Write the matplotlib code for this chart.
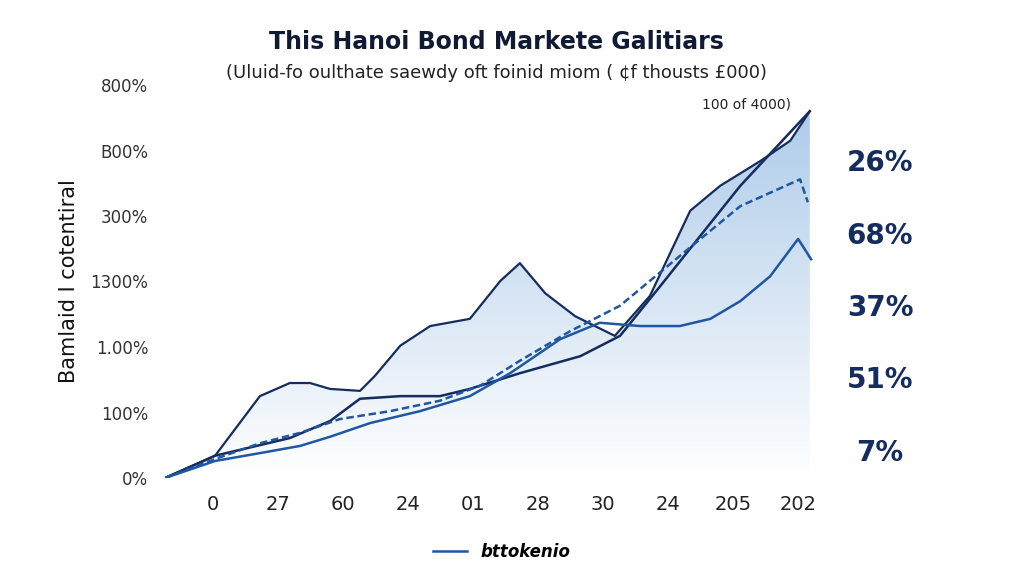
import numpy as np
import matplotlib.pyplot as plt
from matplotlib.colors import LinearSegmentedColormap
from matplotlib.patches import Polygon

title = "This Hanoi Bond Markete Galitiars"
subtitle = "(Uluid-fo oulthate saewdy oft foinid miom ( \u00a2f thousts \u00a3000)"
ylabel = "Bamlaid I cotentiral"
xtick_labels = ["0", "27", "60", "24", "01", "28", "30", "24", "205", "202"]
ytick_labels = ["0%", "100%", "1.00%", "1300%", "300%", "B00%", "800%"]
right_labels = ["26%", "68%", "37%", "51%", "7%"]
legend_label = "bttokenio"

x_area = [-0.74, 0.03, 0.72, 1.18, 1.49, 1.8, 2.26, 2.49, 2.88, 3.34, 3.95, 4.42, 4.72,
          5.11, 5.57, 6.18, 6.72, 7.34, 7.8, 8.42, 8.88, 9.18]
y_area = [0, 0.34, 1.25, 1.45, 1.45, 1.36, 1.33, 1.56, 2.02, 2.32, 2.43, 3.01, 3.28,
          2.82, 2.47, 2.17, 2.78, 4.08, 4.46, 4.84, 5.15, 5.6]
x_straight = [-0.74, 0.03, 1.18, 1.8, 2.26, 2.88, 3.49, 3.95, 4.72, 5.65, 6.26, 6.88, 7.49, 8.11, 9.18]
y_straight = [0, 0.34, 0.61, 0.87, 1.21, 1.25, 1.25, 1.36, 1.6, 1.86, 2.17, 2.93, 3.69, 4.46, 5.6]
x_dash = [-0.74, 0.03, 0.72, 1.34, 1.95, 2.72, 3.49, 4.11, 4.72, 5.49, 6.26, 7.18, 8.11, 9.03, 9.15]
y_dash = [0, 0.29, 0.53, 0.69, 0.9, 1.02, 1.18, 1.41, 1.79, 2.24, 2.63, 3.39, 4.15, 4.56, 4.21]
x_low = [-0.74, 0.03, 0.72, 1.34, 1.8, 2.42, 3.18, 3.95, 4.57, 5.34, 5.95, 6.57, 7.18, 7.65,
         8.11, 8.57, 9.0, 9.2]
y_low = [0, 0.26, 0.38, 0.49, 0.63, 0.84, 1.02, 1.25, 1.6, 2.12, 2.37, 2.32, 2.32, 2.43,
         2.7, 3.08, 3.65, 3.34]

navy = "#142c5e"
blue = "#1f57a0"

fig = plt.figure(figsize=(10.24, 5.76), dpi=100)
ax = fig.add_axes([165 / 1024, 98 / 576, 650 / 1024, 393 / 576])
ax.set_xlim(-0.74, 9.26)
ax.set_ylim(0, 6)

# gradient fill under the top line
cmap = LinearSegmentedColormap.from_list("g", ["#ffffff", "#a9c8e8"])
grad = np.linspace(0, 1, 256).reshape(-1, 1)
img = ax.imshow(grad, cmap=cmap, aspect="auto", origin="lower",
                extent=[-0.74, 9.26, 0, 6], zorder=1)
poly = Polygon(list(zip(x_area, y_area)) + [(x_area[-1], 0), (x_area[0], 0)],
               closed=True, facecolor="none", edgecolor="none")
ax.add_patch(poly)
img.set_clip_path(poly)

ax.plot(x_area, y_area, color=navy, lw=1.6, zorder=3)
ax.plot(x_straight, y_straight, color=navy, lw=1.8, zorder=3)
ax.plot(x_dash, y_dash, color=blue, lw=1.8, ls=(0, (3, 1.5)), zorder=3)
ax.plot(x_low, y_low, color=blue, lw=1.8, zorder=3, label=legend_label)

ax.annotate("", xy=(9.35, 5.9), xytext=(8.7, 5.1),
            arrowprops=dict(arrowstyle="->", color=blue, ls="--", lw=1.5))
ax.text(8.2, 5.7, "100 of 4000)", ha="center", va="center", fontsize=10, color="#222222")

ax.set_xticks(range(len(xtick_labels)))
ax.set_xticklabels(xtick_labels, fontsize=14, color="#222222")
ax.set_yticks(range(len(ytick_labels)))
ax.set_yticklabels(ytick_labels, fontsize=12, color="#333333")
ax.tick_params(length=0, pad=12)
for s in ax.spines.values():
    s.set_visible(False)
ax.set_ylabel(ylabel, fontsize=15, color="#111111", labelpad=8)

for i, lab in enumerate(right_labels):
    fig.text(880 / 1024, 1 - (163 + i * 72.5) / 576, lab, ha="center", va="center",
             fontsize=20, fontweight="bold", color=navy)

fig.text(0.485, 1 - 42 / 576, title, ha="center", va="center", fontsize=17,
         fontweight="bold", color="#111a33")
fig.text(0.485, 1 - 73 / 576, subtitle, ha="center", va="center", fontsize=13, color="#222222")

fig.legend(loc="center", bbox_to_anchor=(0.49, 1 - 552 / 576), frameon=False,
           prop=dict(size=12, weight="bold", style="italic"), handlelength=2)

fig.savefig("out.png", dpi=100)
